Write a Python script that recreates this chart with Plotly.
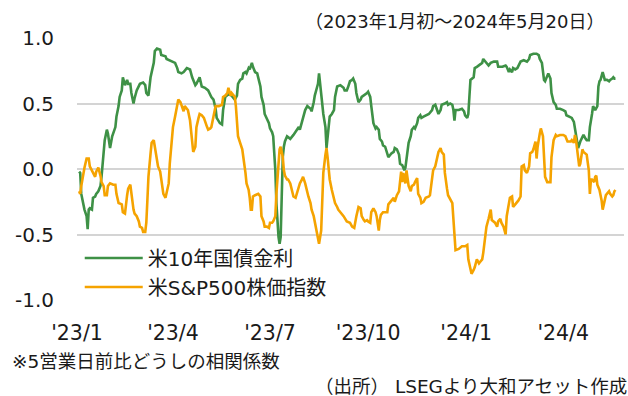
import pandas as pd
import plotly.graph_objects as go

# Day offsets from 2023-01-01 and 5-day-change correlation values
bond_day = [2, 3, 4, 6, 7, 9, 10, 11, 12, 14, 15, 17, 18, 20, 22, 23, 25, 26, 28, 29,
            31, 33, 36, 37, 39, 40, 42, 43, 45, 47, 48, 50, 51, 53, 54, 56, 59, 62, 64, 65,
            67, 69, 72, 73, 75, 78, 79, 83, 84, 87, 90, 92, 94, 95, 98, 100, 103, 106, 108, 111,
            112, 115, 117, 120, 123, 126, 128, 130, 131, 134, 136, 137, 139, 142, 145, 148, 150, 151, 153, 155,
            156, 158, 159, 161, 162, 164, 165, 167, 169, 170, 172, 173, 175, 176, 178, 180, 181, 183, 184, 185,
            186, 187, 188, 189, 190, 191, 192, 193, 194, 195, 197, 200, 203, 206, 208, 209, 211, 212, 214, 216,
            219, 220, 222, 223, 225, 226, 227, 229, 231, 233, 234, 236, 237, 239, 241, 242, 244, 247, 250, 251,
            253, 254, 256, 258, 259, 261, 262, 264, 266, 267, 269, 272, 273, 275, 276, 277, 278, 280, 281, 283,
            284, 286, 287, 289, 291, 292, 295, 297, 298, 300, 302, 303, 305, 306, 307, 308, 309, 311, 313, 314,
            316, 317, 319, 320, 322, 323, 325, 327, 330, 333, 334, 336, 338, 339, 341, 342, 345, 347, 348, 350,
            352, 353, 354, 355, 358, 361, 363, 364, 366, 367, 368, 369, 372, 373, 375, 377, 380, 381, 384, 386,
            388, 391, 394, 395, 399, 402, 403, 405, 406, 408, 409, 411, 413, 416, 419, 422, 424, 425, 428, 431,
            433, 434, 436, 438, 439, 441, 442, 444, 445, 447, 449, 450, 453, 456, 458, 459, 461, 464, 466, 467,
            469, 470, 472, 474, 475, 477, 478, 480, 481, 483, 484, 486, 488, 489, 490, 491, 493, 495, 497, 499,
            500, 502, 503, 504, 505]
bond_val = [-0.02, -0.03, -0.19, -0.29, -0.31, -0.36, -0.46, -0.31, -0.30, -0.31, -0.22, -0.21, -0.19, -0.17, -0.13, -0.06, 0.15, 0.22, 0.30, 0.27,
            0.16, 0.25, 0.32, 0.40, 0.48, 0.55, 0.60, 0.70, 0.64, 0.68, 0.65, 0.65, 0.58, 0.50, 0.54, 0.60, 0.65, 0.66, 0.64, 0.58,
            0.56, 0.70, 0.81, 0.90, 0.92, 0.91, 0.87, 0.86, 0.84, 0.83, 0.82, 0.81, 0.77, 0.74, 0.73, 0.74, 0.77, 0.76, 0.70, 0.64,
            0.65, 0.70, 0.63, 0.62, 0.60, 0.55, 0.53, 0.46, 0.39, 0.35, 0.34, 0.45, 0.55, 0.57, 0.56, 0.53, 0.56, 0.65, 0.68, 0.69,
            0.73, 0.74, 0.73, 0.77, 0.76, 0.81, 0.78, 0.74, 0.73, 0.70, 0.63, 0.55, 0.49, 0.42, 0.39, 0.35, 0.31, 0.28, 0.25, 0.15,
            -0.01, -0.26, -0.41, -0.52, -0.57, -0.52, -0.21, 0.09, 0.17, 0.21, 0.25, 0.23, 0.26, 0.30, 0.32, 0.30, 0.35, 0.39, 0.45, 0.48,
            0.46, 0.44, 0.51, 0.56, 0.62, 0.65, 0.73, 0.55, 0.42, 0.32, 0.16, 0.32, 0.40, 0.42, 0.45, 0.55, 0.63, 0.64, 0.62, 0.60,
            0.60, 0.62, 0.67, 0.68, 0.69, 0.65, 0.58, 0.51, 0.53, 0.55, 0.56, 0.58, 0.59, 0.55, 0.48, 0.42, 0.35, 0.31, 0.32, 0.30,
            0.23, 0.21, 0.18, 0.17, 0.11, 0.09, 0.12, 0.13, 0.16, 0.15, 0.11, 0.04, 0.03, 0.01, -0.01, 0.01, 0.09, 0.20, 0.25, 0.30,
            0.32, 0.31, 0.35, 0.39, 0.41, 0.39, 0.40, 0.41, 0.42, 0.45, 0.48, 0.49, 0.44, 0.42, 0.45, 0.49, 0.50, 0.51, 0.49, 0.50,
            0.49, 0.45, 0.37, 0.45, 0.45, 0.46, 0.44, 0.41, 0.39, 0.42, 0.55, 0.68, 0.70, 0.77, 0.78, 0.79, 0.81, 0.84, 0.81, 0.79,
            0.81, 0.82, 0.82, 0.78, 0.78, 0.79, 0.78, 0.74, 0.76, 0.74, 0.77, 0.76, 0.77, 0.82, 0.83, 0.82, 0.84, 0.87, 0.88, 0.88,
            0.87, 0.84, 0.81, 0.68, 0.67, 0.72, 0.73, 0.69, 0.58, 0.51, 0.49, 0.46, 0.46, 0.45, 0.44, 0.41, 0.40, 0.39, 0.36, 0.30,
            0.22, 0.16, 0.21, 0.25, 0.26, 0.23, 0.22, 0.22, 0.32, 0.42, 0.48, 0.45, 0.48, 0.63, 0.67, 0.68, 0.74, 0.68, 0.68, 0.67,
            0.68, 0.69, 0.70, 0.69, 0.69]

spx_day = [2, 3, 4, 6, 7, 9, 11, 12, 14, 15, 17, 18, 20, 22, 23, 25, 26, 28, 29, 31,
           34, 36, 37, 39, 42, 43, 45, 47, 48, 50, 51, 53, 54, 56, 58, 59, 61, 62, 64, 65,
           66, 67, 69, 70, 72, 73, 75, 76, 78, 79, 81, 83, 84, 86, 87, 89, 90, 92, 94, 95,
           97, 98, 100, 101, 103, 104, 106, 108, 109, 111, 112, 114, 115, 117, 119, 122, 123, 125, 126, 128,
           130, 133, 136, 137, 139, 141, 142, 144, 145, 147, 148, 149, 150, 151, 153, 155, 156, 157, 158, 159,
           161, 162, 163, 164, 165, 167, 170, 172, 173, 175, 176, 178, 180, 181, 183, 184, 186, 187, 189, 190,
           191, 193, 194, 195, 197, 198, 200, 202, 203, 205, 206, 208, 209, 211, 212, 214, 216, 217, 219, 220,
           222, 223, 225, 226, 227, 229, 230, 231, 233, 234, 235, 236, 237, 239, 241, 242, 244, 245, 247, 250,
           253, 256, 258, 260, 262, 264, 266, 267, 269, 270, 272, 273, 275, 276, 278, 280, 281, 283, 284, 285,
           287, 291, 292, 295, 297, 298, 300, 302, 303, 304, 305, 306, 308, 309, 311, 313, 314, 316, 317, 319,
           320, 322, 323, 325, 327, 330, 331, 333, 334, 336, 338, 339, 341, 342, 344, 345, 347, 348, 352, 353,
           354, 355, 358, 361, 364, 366, 367, 369, 370, 372, 373, 375, 377, 378, 380, 381, 383, 384, 386, 388,
           389, 392, 394, 395, 397, 398, 400, 402, 403, 405, 406, 408, 409, 411, 413, 414, 416, 417, 419, 420,
           422, 424, 425, 427, 428, 430, 431, 432, 434, 435, 437, 438, 439, 441, 444, 445, 447, 449, 450, 453,
           456, 458, 460, 463, 464, 466, 467, 468, 470, 471, 472, 474, 475, 477, 478, 480, 481, 482, 483, 485,
           486, 487, 488, 490, 491, 492, 493, 495, 496, 499, 500, 502, 503, 504, 505]
spx_val = [-0.17, -0.19, -0.13, -0.03, 0.01, 0.08, 0.08, 0.02, -0.01, -0.03, -0.06, -0.02, 0.01, -0.05, -0.10, -0.13, -0.20, -0.20, -0.13, -0.11,
           -0.12, -0.12, -0.19, -0.26, -0.27, -0.33, -0.34, -0.20, -0.15, -0.12, -0.19, -0.31, -0.34, -0.36, -0.40, -0.44, -0.45, -0.48, -0.48, -0.41,
           -0.24, -0.06, 0.12, 0.20, 0.22, 0.16, 0.07, 0.02, -0.02, -0.08, -0.19, -0.22, -0.19, -0.11, 0.04, 0.25, 0.32, 0.40, 0.48, 0.53,
           0.51, 0.48, 0.44, 0.48, 0.46, 0.45, 0.37, 0.20, 0.13, 0.17, 0.32, 0.39, 0.42, 0.41, 0.39, 0.32, 0.30, 0.31, 0.32, 0.40,
           0.48, 0.48, 0.49, 0.55, 0.56, 0.58, 0.62, 0.56, 0.58, 0.56, 0.55, 0.48, 0.35, 0.25, 0.20, 0.15, 0.09, 0.04, -0.03, -0.11,
           -0.16, -0.22, -0.31, -0.31, -0.21, -0.20, -0.19, -0.21, -0.36, -0.40, -0.44, -0.44, -0.45, -0.41, -0.41, -0.40, -0.36, -0.19, 0.02, 0.15,
           0.17, 0.09, -0.01, -0.05, -0.08, -0.08, -0.11, -0.19, -0.21, -0.22, -0.19, -0.12, -0.11, -0.08, -0.06, -0.11, -0.19, -0.21, -0.26, -0.31,
           -0.36, -0.40, -0.47, -0.53, -0.57, -0.47, -0.21, -0.03, 0.11, 0.16, 0.09, -0.01, -0.08, -0.16, -0.24, -0.26, -0.29, -0.31, -0.33, -0.36,
           -0.40, -0.41, -0.44, -0.45, -0.36, -0.29, -0.30, -0.36, -0.39, -0.40, -0.39, -0.40, -0.41, -0.33, -0.30, -0.33, -0.36, -0.47, -0.39, -0.35,
           -0.33, -0.33, -0.27, -0.24, -0.22, -0.25, -0.20, -0.17, -0.11, -0.02, -0.10, -0.03, -0.11, -0.01, -0.13, -0.17, -0.13, -0.12, -0.10, -0.07,
           -0.19, -0.22, -0.26, -0.25, -0.22, -0.21, -0.20, -0.06, -0.01, 0.02, 0.08, 0.13, 0.16, 0.13, 0.11, -0.03, -0.15, -0.20, -0.26, -0.36,
           -0.52, -0.62, -0.61, -0.59, -0.59, -0.58, -0.69, -0.77, -0.80, -0.77, -0.75, -0.69, -0.72, -0.71, -0.69, -0.64, -0.52, -0.44, -0.38, -0.31,
           -0.39, -0.41, -0.44, -0.40, -0.38, -0.41, -0.44, -0.50, -0.36, -0.26, -0.22, -0.21, -0.29, -0.27, -0.25, -0.24, -0.21, 0.02, 0.03, -0.01,
           -0.03, 0.02, 0.12, 0.13, 0.15, 0.21, 0.08, 0.17, 0.27, 0.31, 0.25, 0.09, -0.06, -0.10, -0.10, 0.09, 0.22, 0.26, 0.25, 0.26,
           0.26, 0.25, 0.21, 0.21, 0.22, 0.20, 0.26, 0.22, 0.09, 0.02, 0.04, 0.15, 0.13, 0.12, 0.11, -0.01, -0.19, -0.08, -0.08, -0.10,
           -0.06, -0.05, -0.12, -0.16, -0.19, -0.24, -0.31, -0.24, -0.20, -0.17, -0.19, -0.21, -0.20, -0.17, -0.16]

series_names = ["米10年国債金利", "米S&P500株価指数"]
series_colors = ["#3E9146", "#F5A300"]

tick_dates = ["2023-01-01", "2023-04-01", "2023-07-01", "2023-10-01", "2024-01-01", "2024-04-01"]
tick_labels = ["'23/1", "'23/4", "'23/7", "'23/10", "'24/1", "'24/4"]
y_ticks = [1.0, 0.5, 0.0, -0.5, -1.0]
y_labels = ["1.0", "0.5", "0.0", "-0.5", "-1.0"]

period_note = "（2023年1月初～2024年5月20日）"
method_note = "※5営業日前比どうしの相関係数"
source_note = "（出所） LSEGより大和アセット作成"

base = pd.Timestamp("2023-01-01")
x_range = ["2023-01-01", "2024-05-28"]

FONT = "DejaVu Sans, Noto Sans CJK JP, sans-serif"
TEXT = "#1A1A1A"

fig = go.Figure()
for days, vals, name, color in [(bond_day, bond_val, series_names[0], series_colors[0]),
                                (spx_day, spx_val, series_names[1], series_colors[1])]:
    dates = base + pd.to_timedelta(days, unit="D")
    fig.add_trace(go.Scatter(x=dates, y=vals, mode="lines", name=name,
                             line=dict(color=color, width=2.6)))

fig.update_layout(
    width=628, height=396,
    margin=dict(l=77, r=4, t=38, b=96),
    paper_bgcolor="white", plot_bgcolor="white",
    font=dict(family=FONT, color=TEXT, size=19),
    showlegend=True,
    legend=dict(x=0.005, y=0.235, xanchor="left", yanchor="top",
                bgcolor="rgba(0,0,0,0)", font=dict(size=20, family=FONT, color=TEXT),
                itemwidth=58, tracegroupgap=0),
    xaxis=dict(type="date", range=x_range, tickvals=tick_dates, ticktext=tick_labels,
               showgrid=False, zeroline=False, showline=False, ticks="",
               ticklabelstandoff=18, tickfont=dict(size=20.5)),
    xaxis2=dict(type="date", range=x_range, tickvals=tick_dates, overlaying="x",
                anchor="free", position=0.5, side="bottom",
                showline=True, linecolor="#8E8E8E", linewidth=1.5,
                ticks="inside", ticklen=7, tickwidth=1.5, tickcolor="#8E8E8E",
                showticklabels=False, showgrid=False, zeroline=False),
    yaxis=dict(range=[-1, 1], tickvals=y_ticks, ticktext=y_labels,
               showgrid=True, gridcolor="#D4D4D4", gridwidth=1.5,
               zeroline=False, showline=False, ticks="",
               ticklabelstandoff=22, tickfont=dict(size=20)),
)

fig.add_annotation(text=period_note, xref="paper", yref="paper", x=0.968, y=1.0,
                   xanchor="right", yanchor="bottom", yshift=4, showarrow=False,
                   font=dict(size=18, family=FONT, color=TEXT))
fig.add_annotation(text=method_note, xref="paper", yref="paper", x=-0.122, y=-0.235,
                   xanchor="left", yanchor="middle", showarrow=False,
                   font=dict(size=18.5, family=FONT, color=TEXT))
fig.add_annotation(text=source_note, xref="paper", yref="paper", x=1.009, y=-0.33,
                   xanchor="right", yanchor="middle", showarrow=False,
                   font=dict(size=18.5, family=FONT, color=TEXT))

fig.write_html("out.html")
